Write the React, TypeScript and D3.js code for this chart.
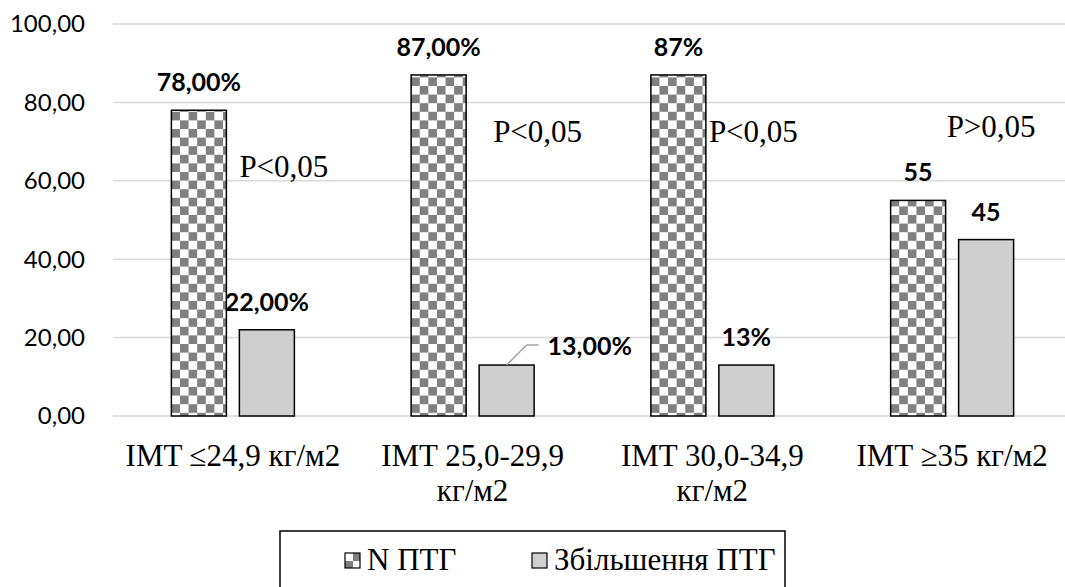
import React, { useEffect, useRef } from 'react';
import * as d3 from 'd3';

const categories = ['IMT ≤24,9 кг/м2', 'IMT 25,0-29,9 кг/м2', 'IMT 30,0-34,9 кг/м2', 'IMT ≥35 кг/м2'];
const seriesNames = ['N ПТГ', 'Збільшення ПТГ'];
const normalValues = [78, 87, 87, 55];
const increaseValues = [22, 13, 13, 45];
const normalLabels = ['78,00%', '87,00%', '87%', '55'];
const increaseLabels = ['22,00%', '13,00%', '13%', '45'];
const pValues = ['P<0,05', 'P<0,05', 'P<0,05', 'P>0,05'];
const yTicks = [0, 20, 40, 60, 80, 100];

// where the P-value notes sit: offset from the first bar of the group (px) and the y value of the baseline
const pNoteDx = [68, 82, 58, 56];
const pNoteLevel = [61, 70, 70, 71.3];

const WIDTH = 1065;
const HEIGHT = 587;
const SERIF = '"Liberation Serif", "Times New Roman", serif';
const SANS = 'Lato, "Open Sans", sans-serif';

export default function App() {
  const svgRef = useRef<SVGSVGElement>(null);

  function draw(elm: SVGSVGElement) {
    const svg = d3.select(elm);
    svg.selectAll('*').remove();

    const x0 = d3.scaleBand<string>()
      .domain(categories)
      .range([113, 1072])
      .paddingInner(0.487)
      .paddingOuter(0.2435);

    const x1 = d3.scaleBand<string>()
      .domain(seriesNames)
      .range([0, x0.bandwidth()])
      .paddingInner(0.191);

    const y = d3.scaleLinear().domain([0, 100]).range([416, 24]);

    const defs = svg.append('defs');
    const cell = 8.6;
    const pat = defs.append('pattern')
      .attr('id', 'checker')
      .attr('patternUnits', 'userSpaceOnUse')
      .attr('width', cell * 2)
      .attr('height', cell * 2)
      .attr('x', 172)
      .attr('y', 0);
    pat.append('rect').attr('width', cell * 2).attr('height', cell * 2).attr('fill', '#fff');
    pat.append('rect').attr('x', cell).attr('width', cell).attr('height', cell).attr('fill', '#808080');
    pat.append('rect').attr('y', cell).attr('width', cell).attr('height', cell).attr('fill', '#808080');

    // grid
    svg.append('g')
      .selectAll('line')
      .data(yTicks)
      .enter()
      .append('line')
      .attr('x1', 113)
      .attr('x2', 1072)
      .attr('y1', d => y(d))
      .attr('y2', d => y(d))
      .attr('stroke', '#d9d9d9')
      .attr('stroke-width', 1.5);

    // y tick labels
    svg.append('g')
      .selectAll('text')
      .data(yTicks)
      .enter()
      .append('text')
      .text(d => d3.format('.2f')(d).replace('.', ','))
      .attr('x', 85)
      .attr('y', d => y(d))
      .attr('dy', '0.35em')
      .attr('text-anchor', 'end')
      .attr('font-family', SANS)
      .attr('font-size', 24)
      .attr('fill', '#000');

    const rows = categories.map((c, i) => ({
      cat: c,
      vals: [normalValues[i], increaseValues[i]],
      labels: [normalLabels[i], increaseLabels[i]],
    }));

    const groups = svg.append('g')
      .selectAll('g')
      .data(rows)
      .enter()
      .append('g')
      .attr('transform', d => 'translate(' + x0(d.cat) + ',0)');

    groups.selectAll('rect')
      .data(d => d.vals.map((v, k) => ({ v, k })))
      .enter()
      .append('rect')
      .attr('x', d => x1(seriesNames[d.k])!)
      .attr('y', d => y(d.v))
      .attr('width', x1.bandwidth())
      .attr('height', d => y(0) - y(d.v))
      .attr('fill', d => (d.k === 0 ? 'url(#checker)' : '#d0cfd0'))
      .attr('stroke', '#000')
      .attr('stroke-width', 1.5);

    // data labels
    groups.each(function (d, i) {
      const g = d3.select(this);
      d.vals.forEach((v, k) => {
        const cx = x1(seriesNames[k])! + x1.bandwidth() / 2;
        const top = y(v);
        if (i === 1 && k === 1) {
          // moved label with leader line
          g.append('polyline')
            .attr('points', [[cx, top], [cx + 20, top - 20], [cx + 32, top - 20]].map(p => p.join(',')).join(' '))
            .attr('fill', 'none')
            .attr('stroke', '#a6a6a6')
            .attr('stroke-width', 1.5);
          g.append('text')
            .text(d.labels[k])
            .attr('x', cx + 41)
            .attr('y', top - 10)
            .attr('font-family', SANS)
            .attr('font-weight', 700)
            .attr('font-size', 25)
            .attr('fill', '#000');
        } else {
          g.append('text')
            .text(d.labels[k])
            .attr('x', cx)
            .attr('y', top - 19)
            .attr('text-anchor', 'middle')
            .attr('font-family', SANS)
            .attr('font-weight', 700)
            .attr('font-size', 25)
            .attr('fill', '#000');
        }
      });
    });

    // P-value notes
    svg.append('g')
      .selectAll('text')
      .data(pValues)
      .enter()
      .append('text')
      .text(d => d)
      .attr('x', (d, i) => x0(categories[i])! + pNoteDx[i])
      .attr('y', (d, i) => y(pNoteLevel[i]))
      .attr('font-family', SERIF)
      .attr('font-size', 31)
      .attr('fill', '#000');

    // category labels, wrapped to the band step
    const catText = svg.append('g')
      .selectAll('text')
      .data(categories)
      .enter()
      .append('text')
      .attr('x', d => x0(d)! + x0.bandwidth() / 2)
      .attr('y', 466)
      .attr('text-anchor', 'middle')
      .attr('font-family', SERIF)
      .attr('font-size', 31)
      .attr('fill', '#000');

    catText.each(function (d) {
      const t = d3.select(this);
      const words = d.split(' ');
      let line: string[] = [];
      let tspan = t.append('tspan').attr('x', t.attr('x')).attr('dy', 0);
      words.forEach(w => {
        line.push(w);
        tspan.text(line.join(' '));
        if ((tspan.node() as SVGTSpanElement).getComputedTextLength() > x0.step() - 4 && line.length > 1) {
          line.pop();
          tspan.text(line.join(' '));
          line = [w];
          tspan = t.append('tspan').attr('x', t.attr('x')).attr('dy', 35).text(w);
        }
      });
    });

    // legend
    const legend = svg.append('g');
    legend.append('rect')
      .attr('x', 280)
      .attr('y', 531)
      .attr('width', 505)
      .attr('height', 80)
      .attr('fill', '#fff')
      .attr('stroke', '#000')
      .attr('stroke-width', 1.5);

    const lp = defs.append('pattern')
      .attr('id', 'checkerLegend')
      .attr('patternUnits', 'userSpaceOnUse')
      .attr('width', 16)
      .attr('height', 16)
      .attr('x', 345)
      .attr('y', 553);
    lp.append('rect').attr('width', 16).attr('height', 16).attr('fill', '#fff');
    lp.append('rect').attr('x', 8).attr('width', 8).attr('height', 8).attr('fill', '#808080');
    lp.append('rect').attr('y', 8).attr('width', 8).attr('height', 8).attr('fill', '#808080');

    const legendX = [345, 532];
    seriesNames.forEach((name, k) => {
      legend.append('rect')
        .attr('x', legendX[k])
        .attr('y', 553)
        .attr('width', 15)
        .attr('height', 15)
        .attr('fill', k === 0 ? 'url(#checkerLegend)' : '#d0cfd0')
        .attr('stroke', '#000')
        .attr('stroke-width', 1.2);
      legend.append('text')
        .text(name)
        .attr('x', legendX[k] + 22)
        .attr('y', 570)
        .attr('font-family', SERIF)
        .attr('font-size', 31)
        .attr('fill', '#000');
    });
  }

  useEffect(() => {
    if (svgRef.current) {
      draw(svgRef.current);
    }
  }, []);

  return (
    <div style={{ position: 'absolute', left: 0, top: 0 }}>
      <svg ref={svgRef} width={WIDTH} height={HEIGHT} style={{ display: 'block', background: '#fff' }}></svg>
    </div>
  );
}
